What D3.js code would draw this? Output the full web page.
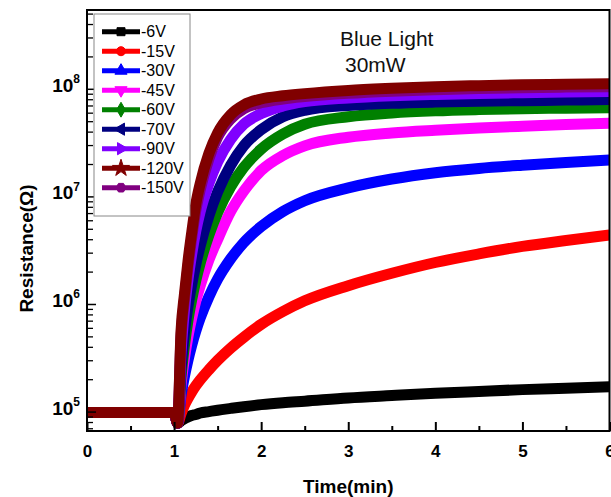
<!DOCTYPE html>
<html><head><meta charset="utf-8">
<script src="https://cdn.jsdelivr.net/npm/d3@7"></script>
<style>
body{margin:0;background:#fff}
svg{display:block}
text{font-family:"Liberation Sans",Arial,Helvetica,sans-serif}
</style>
</head><body>
<svg id="chart" width="611" height="497"></svg>
<script>
// ---------- data ----------
const times = [0, 0.5, 1.0, 1.04, 1.08, 1.12, 1.16, 1.2, 1.25, 1.3, 1.4, 1.5, 1.65, 1.8, 2.0, 2.25, 2.5, 3.0, 3.5, 4.0, 4.5, 5.0, 5.5, 6.0];
const seriesNames = ["-6V", "-15V", "-30V", "-45V", "-60V", "-70V", "-90V", "-120V", "-150V"];
const seriesColors = ["#000000", "#ff0000", "#0000ff", "#ff00ff", "#008000", "#000080", "#8000ff", "#800000", "#800080"];
const r6V   = [9.8e4, 9.8e4, 9.8e4, 7.8e4, 8.2e4, 8.6e4, 8.9e4, 9.2e4, 9.4e4, 9.7e4, 1.0e5, 1.03e5, 1.07e5, 1.11e5, 1.16e5, 1.21e5, 1.25e5, 1.34e5, 1.41e5, 1.48e5, 1.54e5, 1.6e5, 1.65e5, 1.7e5];
const r15V  = [9.8e4, 9.8e4, 9.8e4, 7.8e4, 9.55e4, 1.15e5, 1.33e5, 1.51e5, 1.74e5, 1.97e5, 2.45e5, 2.99e5, 3.89e5, 4.9e5, 6.46e5, 8.51e5, 1.07e6, 1.48e6, 1.93e6, 2.43e6, 2.92e6, 3.43e6, 3.89e6, 4.37e6];
const r30V  = [9.8e4, 9.8e4, 9.8e4, 7.8e4, 1.41e5, 2.14e5, 3.02e5, 4.07e5, 5.62e5, 7.41e5, 1.17e6, 1.7e6, 2.63e6, 3.72e6, 5.25e6, 7.24e6, 9.12e6, 1.2e7, 1.45e7, 1.66e7, 1.82e7, 1.95e7, 2.07e7, 2.18e7];
const r45V  = [9.8e4, 9.8e4, 9.8e4, 7.8e4, 1.78e5, 3.16e5, 5.01e5, 7.24e5, 1.07e6, 1.48e6, 2.57e6, 3.98e6, 7.24e6, 1.12e7, 1.74e7, 2.4e7, 2.95e7, 3.55e7, 3.89e7, 4.12e7, 4.32e7, 4.49e7, 4.65e7, 4.79e7];
const r60V  = [9.8e4, 9.8e4, 9.8e4, 7.8e4, 2.09e5, 4.17e5, 7.08e5, 1.07e6, 1.66e6, 2.4e6, 4.37e6, 7.08e6, 1.23e7, 1.86e7, 2.75e7, 3.8e7, 4.68e7, 5.5e7, 5.96e7, 6.24e7, 6.41e7, 6.53e7, 6.61e7, 6.68e7];
const r70V  = [9.8e4, 9.8e4, 9.8e4, 7.8e4, 2.51e5, 5.5e5, 9.55e5, 1.48e6, 2.34e6, 3.47e6, 6.61e6, 1.1e7, 1.95e7, 2.95e7, 4.17e7, 5.5e7, 6.31e7, 7.0e7, 7.33e7, 7.53e7, 7.67e7, 7.76e7, 7.85e7, 7.94e7];
const r90V  = [9.8e4, 9.8e4, 9.8e4, 7.8e4, 3.55e5, 8.91e5, 1.7e6, 2.82e6, 4.79e6, 7.24e6, 1.32e7, 2.09e7, 3.39e7, 4.68e7, 5.89e7, 6.92e7, 7.59e7, 8.22e7, 8.61e7, 8.87e7, 9.06e7, 9.2e7, 9.33e7, 9.44e7];
const r120V = [9.8e4, 9.8e4, 9.8e4, 7.8e4, 5.62e5, 1.26e6, 2.51e6, 4.47e6, 8.51e6, 1.32e7, 2.51e7, 3.89e7, 5.75e7, 7.08e7, 8.04e7, 8.61e7, 9.02e7, 9.66e7, 1.01e8, 1.047e8, 1.07e8, 1.089e8, 1.104e8, 1.117e8];
const r150V = [9.8e4, 9.8e4, 9.8e4, 7.8e4, 5.01e5, 1.12e6, 2.24e6, 3.98e6, 7.41e6, 1.15e7, 2.24e7, 3.55e7, 5.25e7, 6.53e7, 7.41e7, 8.04e7, 8.47e7, 9.08e7, 9.51e7, 9.82e7, 1.005e8, 1.023e8, 1.038e8, 1.047e8];
const seriesValues = [r6V, r15V, r30V, r45V, r60V, r70V, r90V, r120V, r150V];
const xTickValues = [0, 1, 2, 3, 4, 5, 6];
const xMinorTicks = [0.5, 1.5, 2.5, 3.5, 4.5, 5.5];
const yTickValues = [1e5, 1e6, 1e7, 1e8];
const yTickExponents = ["5", "6", "7", "8"];
const xDomain = [0, 6];
const yDomain = [6.6e4, 5.4e8];
const annotation = ["Blue Light", "30mW"];
const xTitle = "Time(min)";
const yTitle = "Resistance(\u03A9)";
const drawOrder = [0, 1, 2, 3, 4, 5, 6, 8, 7];

// ---------- layout ----------
const svg = d3.select("#chart");
const P = {left: 87, right: 609.5, top: 10, bottom: 431};
const x = d3.scaleLinear().domain(xDomain).range([P.left, P.right]);
const y = d3.scaleLog().domain(yDomain).range([P.bottom, P.top]);

svg.append("rect").attr("width", 611).attr("height", 497).attr("fill", "#fff");

svg.append("defs").append("clipPath").attr("id", "clip")
  .append("rect").attr("x", P.left).attr("y", P.top)
  .attr("width", P.right - P.left).attr("height", P.bottom - P.top);

// ---------- curves ----------
const line = d3.line()
  .x(d => x(d[0])).y(d => y(d[1]))
  .curve(d3.curveMonotoneX);

const gLines = svg.append("g").attr("clip-path", "url(#clip)");
drawOrder.forEach(i => {
  const pts = times.map((t, k) => [t, seriesValues[i][k]]);
  gLines.append("path")
    .attr("d", line(pts))
    .attr("fill", "none")
    .attr("stroke", seriesColors[i])
    .attr("stroke-width", 11)
    .attr("stroke-linejoin", "round")
    .attr("stroke-linecap", "butt");
});

// ---------- axes ----------
const xAxis = svg.append("g").attr("transform", `translate(0,${P.bottom})`)
  .call(d3.axisBottom(x).tickValues(xTickValues).tickSizeInner(-9).tickSizeOuter(0).tickPadding(14).tickFormat(d3.format("d")));
xAxis.select(".domain").remove();
xAxis.selectAll("line").attr("stroke", "#000").attr("stroke-width", 2);
xAxis.selectAll("text").attr("font-size", 17).attr("font-weight", "bold").attr("fill", "#000");

const xAxisMinor = svg.append("g").attr("transform", `translate(0,${P.bottom})`)
  .call(d3.axisBottom(x).tickValues(xMinorTicks).tickSizeInner(-5).tickSizeOuter(0).tickFormat(""));
xAxisMinor.select(".domain").remove();
xAxisMinor.selectAll("line").attr("stroke", "#000").attr("stroke-width", 2);

const yAxis = svg.append("g").attr("transform", `translate(${P.left},0)`)
  .call(d3.axisLeft(y).tickValues(yTickValues).tickSizeInner(-9).tickSizeOuter(0).tickPadding(7).tickFormat(() => ""));
yAxis.select(".domain").remove();
yAxis.selectAll("line").attr("stroke", "#000").attr("stroke-width", 1.5);
yAxis.selectAll("text").each(function(d, i) {
  const t = d3.select(this).attr("dy", null).attr("y", 2.5).attr("fill", "#000").attr("font-weight", "bold");
  t.append("tspan").attr("font-size", 19).text("10");
  t.append("tspan").attr("font-size", 12).attr("dy", -8.5).text(yTickExponents[i]);
});

const yMinor = [];
for (let e = 4; e <= 8; e++) for (let m = 2; m <= 9; m++) {
  const v = m * Math.pow(10, e);
  if (v > yDomain[0] && v < yDomain[1]) yMinor.push(v);
}
const yAxisMinor = svg.append("g").attr("transform", `translate(${P.left},0)`)
  .call(d3.axisLeft(y).tickValues(yMinor).tickSizeInner(-6).tickSizeOuter(0).tickFormat(""));
yAxisMinor.select(".domain").remove();
yAxisMinor.selectAll("line").attr("stroke", "#000").attr("stroke-width", 1.3);

// frame
svg.append("rect")
  .attr("x", P.left).attr("y", P.top)
  .attr("width", P.right - P.left).attr("height", P.bottom - P.top)
  .attr("fill", "none").attr("stroke", "#000").attr("stroke-width", 2);

// titles
svg.append("text").attr("x", (P.left + P.right) / 2).attr("y", 493)
  .attr("text-anchor", "middle").attr("font-size", 19).attr("font-weight", "bold").text(xTitle);
svg.append("text").attr("transform", `translate(33,${(P.top + P.bottom) / 2 + 28}) rotate(-90)`)
  .attr("text-anchor", "middle").attr("font-size", 19).attr("font-weight", "bold").text(yTitle);

// annotation
svg.append("text").attr("x", 340).attr("y", 46).attr("font-size", 21).attr("fill", "#111").text(annotation[0]);
svg.append("text").attr("x", 345).attr("y", 72).attr("font-size", 21).attr("fill", "#111").text(annotation[1]);

// ---------- legend ----------
const hexagon = {
  draw(ctx, size) {
    const r = Math.sqrt(size / 2.598);
    for (let k = 0; k < 6; k++) {
      const a = Math.PI / 3 * k;
      const px = r * Math.cos(a), py = r * Math.sin(a);
      if (k === 0) ctx.moveTo(px, py); else ctx.lineTo(px, py);
    }
    ctx.closePath();
  }
};
const markerTypes = [
  [d3.symbolSquare, 0], [d3.symbolCircle, 0], [d3.symbolTriangle, 0], [d3.symbolTriangle, 180],
  [d3.symbolDiamond, 0], [d3.symbolTriangle, -90], [d3.symbolTriangle, 90], [d3.symbolStar, 0], [hexagon, 0]
];
const lg = svg.append("g");
lg.append("rect").attr("x", 94).attr("y", 14).attr("width", 96).attr("height", 202)
  .attr("fill", "#fff").attr("stroke", "#888").attr("stroke-width", 1);
seriesNames.forEach((name, i) => {
  const cy = 31.7 + i * 19.5;
  lg.append("line").attr("x1", 102).attr("x2", 140).attr("y1", cy).attr("y2", cy)
    .attr("stroke", seriesColors[i]).attr("stroke-width", 5);
  const [type, rot] = markerTypes[i];
  lg.append("path").attr("d", d3.symbol().type(type).size(i === 7 ? 90 : 64)())
    .attr("transform", `translate(121,${cy}) rotate(${rot})`)
    .attr("fill", seriesColors[i]).attr("stroke", seriesColors[i]).attr("stroke-width", 1);
  lg.append("text").attr("x", 141).attr("y", cy).attr("dy", "0.36em")
    .attr("font-size", 16).attr("fill", "#000").text(name);
});
</script>
</body></html>
